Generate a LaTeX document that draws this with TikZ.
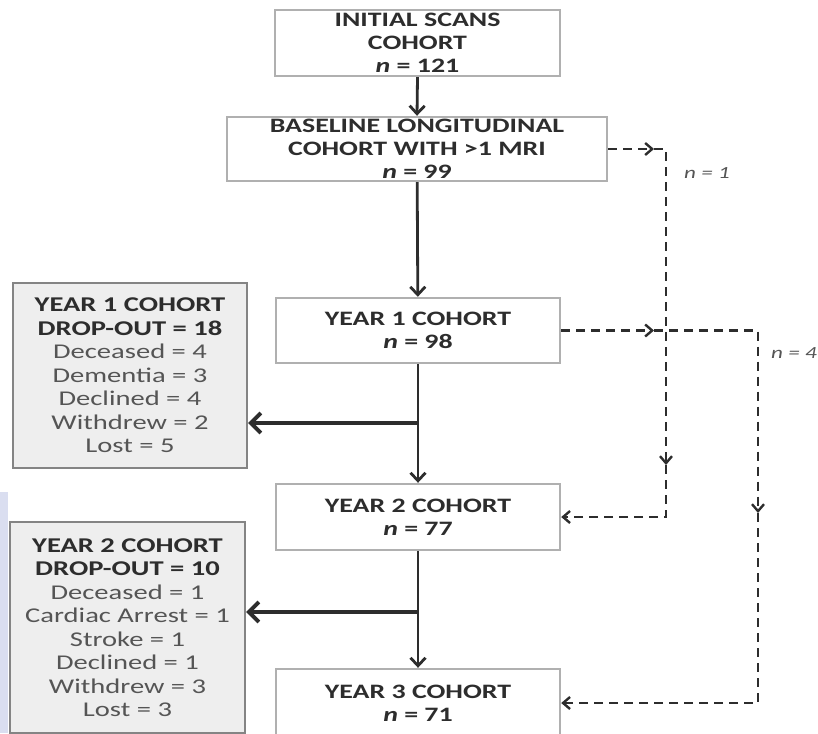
\documentclass[tikz,border=0pt]{standalone}
\usepackage{fontspec}
\setmainfont{Carlito}[FakeStretch=1.36]
\usetikzlibrary{arrows.meta}
\definecolor{ink}{HTML}{2D2D2D}
\definecolor{soft}{HTML}{555555}
\definecolor{rim}{HTML}{B0B0B0}
\definecolor{panel}{HTML}{EEEEEE}
\definecolor{strip}{HTML}{DADEF0}
\newcommand{\head}[1]{\textcolor{ink}{\textbf{#1}}}
\begin{document}
\begin{tikzpicture}[
      x=1pt, y=-1pt,
      cohort/.style={draw=rim, line width=2.4pt, fill=white, align=center, text=ink, inner sep=0pt, font=\fontsize{20.5}{23}\selectfont\bfseries, minimum width=284pt},
      dropout/.style={draw=rim!75!black, line width=2.4pt, fill=panel, align=center, text=soft, inner sep=0pt, font=\fontsize{21}{23.5}\selectfont, minimum width=234pt},
      flow/.style={draw=ink, line width=2.8pt, -{Straight Barb[length=8pt,width=15pt]}},
      exit/.style={draw=ink, line width=3.8pt, -{Straight Barb[length=10pt,width=20pt]}},
      skip/.style={draw=ink, line width=2.4pt, dash pattern=on 9pt off 6pt},
      tip/.style={-{Straight Barb[length=7pt,width=12pt]}},
      count/.style={text=soft, inner sep=1pt, font=\fontsize{17}{19}\selectfont\itshape}
      ]

    \useasboundingbox (0,0) rectangle (818,733);
    \fill[strip] (0,492) rectangle (8,733);

    \node[cohort, minimum width=285pt, minimum height=66pt] (init) at (417.5,43) {INITIAL SCANS\\COHORT\\\textit{n} = 121};
    \node[cohort, minimum width=380pt, minimum height=64pt] (base) at (417,149) {BASELINE LONGITUDINAL\\COHORT WITH >1 MRI\\\textit{n} = 99};
    \node[cohort, minimum height=65pt] (y1) at (418,330.5) {YEAR 1 COHORT\\\textit{n} = 98};
    \node[cohort, minimum height=66pt] (y2) at (418,517) {YEAR 2 COHORT\\\textit{n} = 77};
    \node[cohort, minimum height=68pt] (y3) at (418,703) {YEAR 3 COHORT\\\textit{n} = 71};

    \node[dropout, minimum height=185pt] (drop1) at (130,375.5) {\head{YEAR 1 COHORT}\\\head{DROP-OUT = 18}\\Deceased = 4\\Dementia = 3\\Declined = 4\\Withdrew = 2\\Lost = 5};
    \node[dropout, minimum width=235pt, minimum height=211pt] (drop2) at (127.5,627.5) {\head{YEAR 2 COHORT}\\\head{DROP-OUT = 10}\\Deceased = 1\\Cardiac Arrest = 1\\Stroke = 1\\Declined = 1\\Withdrew = 3\\Lost = 3};

    \draw[flow] (init.south) -- (base.north);
    \draw[flow] (base) -- (y1);
    \draw[flow] (y1) -- (y2);
    \draw[flow] (y2) -- (y3);

    \coordinate (split1) at (418,423);
    \coordinate (split2) at (418,612);
    \draw[exit] (split1) -- (drop1.east |- split1);
    \draw[exit] (split2) -- (drop2.east |- split2);

    \coordinate (a1) at (654,149);
    \coordinate (c1) at (666,149);
    \coordinate (d1) at (666,465);
    \coordinate (e1) at (666,517);
    \draw[skip,tip] (base.east) -- (a1);
    \draw[skip,tip] (a1) -- (c1) -- (d1);
    \draw[skip,tip] (d1) -- (e1) -- (y2.east);

    \coordinate (a2) at (654,330.5);
    \coordinate (c2) at (758,330.5);
    \coordinate (d2) at (758,513);
    \coordinate (e2) at (758,703);
    \draw[skip,tip] (y1.east) -- (a2);
    \draw[skip,tip] (a2) -- (c2) -- (d2);
    \draw[skip,tip] (d2) -- (e2) -- (y3.east);

    \node[count] (n1) at (707,173) {n = 1};
    \node[count, anchor=east] (n4) at (818,353) {n = 4};

\end{tikzpicture}
\end{document}
